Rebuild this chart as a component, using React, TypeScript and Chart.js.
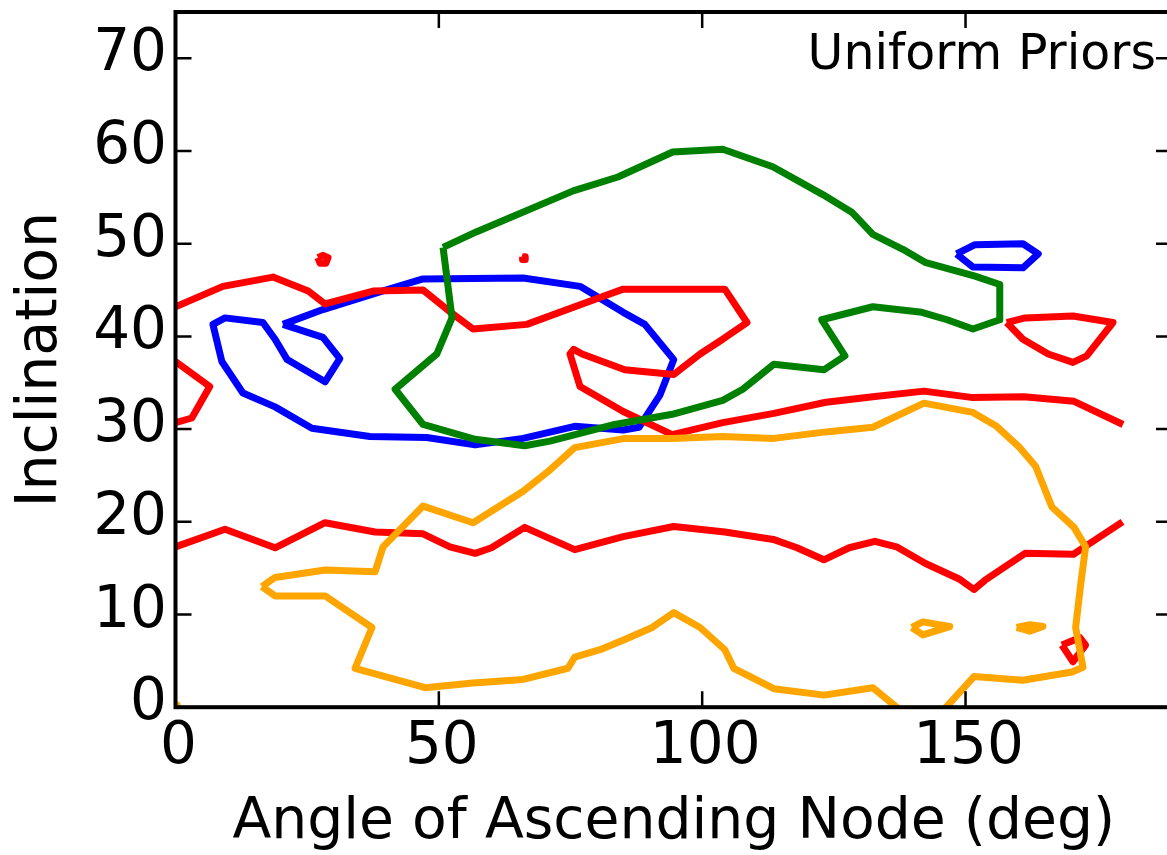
import React, { useEffect, useRef } from "react";
import { Chart, registerables } from "chart.js";

Chart.register(...registerables);

type Pt = [number, number];

// Axis ranges and tick steps
const X_MIN = 0;
const X_MAX = 189.2;
const Y_MIN = 0;
const Y_MAX = 75;
const X_STEP = 50;
const Y_STEP = 10;

const X_TITLE = "Angle of Ascending Node (deg)";
const Y_TITLE = "Inclination";
const PANEL_LABEL = "Uniform Priors";

// Red contour pieces (node angle deg, inclination deg)
const redEdgeLoop: Pt[] = [[0, 37.3], [6.5, 34.6], [3.1, 31.2], [0, 30.7]];
const redUpper: Pt[] = [
  [0, 43.2], [9.0, 45.4], [18.5, 46.4], [25.2, 44.9], [28.4, 43.5], [37.5, 44.9],
  [47.0, 45.0], [52.7, 42.4], [56.5, 40.8], [66.7, 41.3], [80.6, 44.2], [85.0, 45.1],
  [104.3, 45.1], [108.5, 41.5], [103.9, 39.7], [99.6, 38.1], [94.6, 35.9], [85.3, 36.4],
  [77.2, 38.1], [75.6, 38.6], [74.9, 38.1], [76.8, 34.6], [85.0, 31.9], [94.3, 29.4],
  [103.9, 30.7], [113.6, 31.7], [123.5, 32.9], [132.4, 33.5], [142.1, 34.1], [151.4, 33.4],
  [161.1, 33.5], [170.6, 33.0], [179.9, 30.5],
];
const redLower: Pt[] = [
  [0, 17.3], [9.4, 19.2], [18.9, 17.2], [28.4, 19.9], [37.9, 18.9], [47.0, 18.7],
  [52.1, 17.3], [56.9, 16.6], [60.0, 17.2], [66.3, 19.4], [75.8, 17.0], [85.0, 18.4],
  [94.6, 19.5], [104.3, 18.9], [113.5, 18.1], [118.0, 17.2], [123.1, 15.9], [127.9, 17.2],
  [132.8, 17.9], [136.9, 17.3], [142.4, 15.5], [148.9, 13.8], [151.6, 12.7], [153.7, 13.7],
  [161.3, 16.6], [170.5, 16.5], [172.6, 17.3], [179.8, 20.0],
];
const redRightLoop: Pt[] = [
  [157.8, 41.5], [161.3, 42.0], [170.4, 42.2], [178.0, 41.5], [173.0, 37.9],
  [170.4, 37.2], [165.7, 38.1], [160.9, 39.7], [157.8, 41.5],
];
const redSpeckA: Pt[] = [[27.05, 48.5], [28.0, 48.75], [28.95, 48.5], [28.55, 47.9], [27.45, 47.9], [27.05, 48.5]];
const redSpeckB: Pt[] = [[65.9, 48.6], [66.4, 48.6], [66.4, 48.3], [65.9, 48.3], [65.9, 48.6]];
const redSpeckC: Pt[] = [[168.3, 6.7], [171.7, 7.5], [172.8, 6.7], [171.3, 5.6], [170.4, 4.9], [168.3, 6.7]];

// Blue contour pieces
const blueMain: Pt[] = [
  [20.4, 41.3], [28.0, 39.9], [31.2, 37.6], [28.4, 35.1], [21.2, 37.5], [18.9, 39.7],
  [16.6, 41.5], [9.4, 42.0], [7.1, 41.3], [8.8, 37.3], [12.8, 33.9], [18.9, 32.4],
  [25.9, 30.1], [36.9, 29.2], [47.7, 29.1], [56.9, 28.3], [66.0, 29.0], [75.8, 30.3],
  [85.0, 29.9], [88.0, 30.2], [92.0, 33.7], [94.6, 37.5], [89.1, 41.3], [85.0, 42.6],
  [76.8, 45.4], [66.0, 46.3], [47.0, 46.2], [38.8, 44.8], [28.0, 42.9], [20.4, 41.3],
];
const blueIsland: Pt[] = [
  [148.3, 48.9], [151.8, 49.9], [160.9, 50.0], [163.8, 48.9], [160.9, 47.4], [151.4, 47.5], [148.3, 48.9],
];

// Green contour
const greenMain: Pt[] = [
  [50.8, 49.6], [57.2, 51.3], [75.5, 55.7], [84.0, 57.2], [94.4, 59.9], [103.9, 60.2],
  [113.4, 58.3], [122.9, 55.3], [128.4, 53.4], [132.4, 51.0], [138.1, 49.4], [142.3, 48.0],
  [151.8, 46.5], [156.5, 45.6], [156.5, 41.8], [151.4, 40.8], [146.5, 41.8], [141.7, 42.6],
  [132.4, 43.2], [122.7, 41.8], [127.1, 37.9], [123.1, 36.4], [113.6, 37.0], [107.7, 34.3],
  [103.9, 33.1], [94.3, 31.6], [83.4, 30.5], [71.1, 28.7], [66.3, 28.2], [56.9, 28.9],
  [47.0, 30.5], [41.7, 34.3], [49.6, 38.1], [52.5, 42.0], [50.8, 49.6],
];

// Orange contour pieces
const orangeMain: Pt[] = [
  [16.4, 13.0], [18.9, 14.0], [28.4, 14.8], [37.9, 14.6], [39.4, 17.3], [47.0, 21.7],
  [56.5, 19.9], [66.0, 23.3], [71.1, 25.6], [75.8, 28.0], [85.3, 29.0], [94.3, 29.0],
  [103.9, 29.2], [113.6, 29.0], [123.5, 29.7], [132.4, 30.2], [142.1, 32.8], [151.4, 31.8],
  [155.9, 30.3], [160.3, 28.0], [163.3, 26.0], [166.4, 21.6], [170.6, 19.4], [172.8, 17.3],
  [171.9, 13.4], [170.9, 8.6], [172.3, 4.3], [170.2, 3.8], [160.9, 2.9], [151.6, 3.3],
  [142.3, -2.5], [132.4, 2.1], [123.1, 1.3], [113.6, 2.0], [106.0, 4.2], [104.3, 6.2],
  [99.6, 8.6], [94.6, 10.2], [90.5, 8.6], [85.3, 7.3], [80.6, 6.2], [75.8, 5.4],
  [74.5, 4.2], [66.0, 3.0], [56.5, 2.6], [47.4, 2.1], [37.9, 3.6], [34.1, 4.2],
  [37.3, 8.6], [28.4, 12.0], [18.9, 12.0], [16.4, 13.0],
];
const orangeSpeckA: Pt[] = [[139.8, 8.6], [141.9, 9.2], [147.0, 8.7], [141.9, 7.8], [139.8, 8.6]];
const orangeSpeckB: Pt[] = [[159.7, 8.6], [162.2, 8.9], [164.7, 8.7], [162.2, 8.2], [159.7, 8.6]];
const orangeCorner: Pt[] = [[-0.5, 0.25], [0.3, 0.25], [0.3, -0.5], [-0.5, -0.5], [-0.5, 0.25]];

const RED = "#ff0000";
const BLUE = "#0000ff";
const GREEN = "#008000";
const ORANGE = "#ffa500";

const FONT = '"DejaVu Sans"';

const groups: { color: string; order: number; pieces: Pt[][] }[] = [
  { color: ORANGE, order: 0, pieces: [orangeMain, orangeSpeckA, orangeSpeckB, orangeCorner] },
  { color: GREEN, order: 1, pieces: [greenMain] },
  { color: RED, order: 2, pieces: [redEdgeLoop, redUpper, redLower, redRightLoop, redSpeckA, redSpeckB, redSpeckC] },
  { color: BLUE, order: 3, pieces: [blueMain, blueIsland] },
];

const datasets = groups.flatMap((g) =>
  g.pieces.map((pts) => ({
    data: pts.map(([x, y]) => ({ x, y })),
    showLine: true,
    borderColor: g.color,
    backgroundColor: g.color,
    borderWidth: 7,
    borderJoinStyle: "round" as const,
    borderCapStyle: "butt" as const,
    pointRadius: 0,
    fill: false,
    tension: 0,
    clip: 0,
    order: g.order,
  }))
);

// Frame with inward ticks on all four sides, plus the panel label
const framePlugin = {
  id: "frameAndLabel",
  afterDraw(chart: any) {
    const { ctx, chartArea: a, scales } = chart;
    const tick = 16;
    ctx.save();
    ctx.strokeStyle = "#000";
    ctx.lineWidth = 2.5;
    ctx.beginPath();
    for (const t of scales.x.ticks) {
      const px = scales.x.getPixelForValue(t.value);
      ctx.moveTo(px, a.bottom);
      ctx.lineTo(px, a.bottom - tick);
      ctx.moveTo(px, a.top);
      ctx.lineTo(px, a.top + tick);
    }
    for (const t of scales.y.ticks) {
      const py = scales.y.getPixelForValue(t.value);
      ctx.moveTo(a.left, py);
      ctx.lineTo(a.left + tick, py);
      ctx.moveTo(a.right, py);
      ctx.lineTo(a.right - tick, py);
    }
    ctx.stroke();
    ctx.lineWidth = 4;
    ctx.strokeRect(a.left, a.top, a.right - a.left, a.bottom - a.top);

    ctx.fillStyle = "#000";
    ctx.font = `49px ${FONT}`;
    ctx.textAlign = "right";
    ctx.textBaseline = "alphabetic";
    ctx.fillText(PANEL_LABEL, a.right - 16, a.top + 57.3);
    ctx.restore();
  },
};

export default function App() {
  const ref = useRef<HTMLCanvasElement>(null);

  useEffect(() => {
    const canvas = ref.current;
    if (!canvas) return;
    const chart = new Chart(canvas, {
      type: "scatter",
      data: { datasets: datasets as any },
      options: {
        animation: false,
        responsive: false,
        devicePixelRatio: 1,
        events: [],
        layout: { padding: { left: 0, top: 12, right: 8, bottom: 0 }, autoPadding: false },
        plugins: { legend: { display: false }, tooltip: { enabled: false } },
        scales: {
          x: {
            type: "linear",
            position: "bottom",
            min: X_MIN,
            max: X_MAX,
            grid: { display: false, drawTicks: false },
            border: { display: false },
            ticks: {
              stepSize: X_STEP,
              includeBounds: false,
              autoSkip: false,
              maxRotation: 0,
              padding: 6,
              labelOffset: 3,
              color: "#000",
              font: { family: FONT, size: 58 },
            },
            title: {
              display: true,
              text: X_TITLE,
              color: "#000",
              font: { family: FONT, size: 56.8, lineHeight: 1 },
              padding: { top: 0, bottom: 3 },
            },
            afterFit: (s: any) => {
              s.height = 147.8;
              s.paddingLeft = 0;
              s.paddingRight = 0;
            },
          },
          y: {
            type: "linear",
            position: "left",
            min: Y_MIN,
            max: Y_MAX,
            grid: { display: false, drawTicks: false },
            border: { display: false },
            ticks: {
              stepSize: Y_STEP,
              includeBounds: false,
              autoSkip: false,
              padding: 8.5,
              labelOffset: -3,
              color: "#000",
              font: { family: FONT, size: 58 },
            },
            title: {
              display: true,
              text: Y_TITLE,
              color: "#000",
              font: { family: FONT, size: 56.8, lineHeight: 1 },
              padding: { top: 13, bottom: 0 },
            },
            afterFit: (s: any) => {
              s.width = 175.5;
              s.paddingTop = 0;
              s.paddingBottom = 0;
            },
          },
        },
      } as any,
      plugins: [framePlugin],
    });
    return () => chart.destroy();
  }, []);

  return (
    <canvas
      ref={ref}
      width={1180}
      height={855}
      style={{ position: "fixed", left: 0, top: 0, width: 1180, height: 855, display: "block", background: "#fff" }}
    />
  );
}
